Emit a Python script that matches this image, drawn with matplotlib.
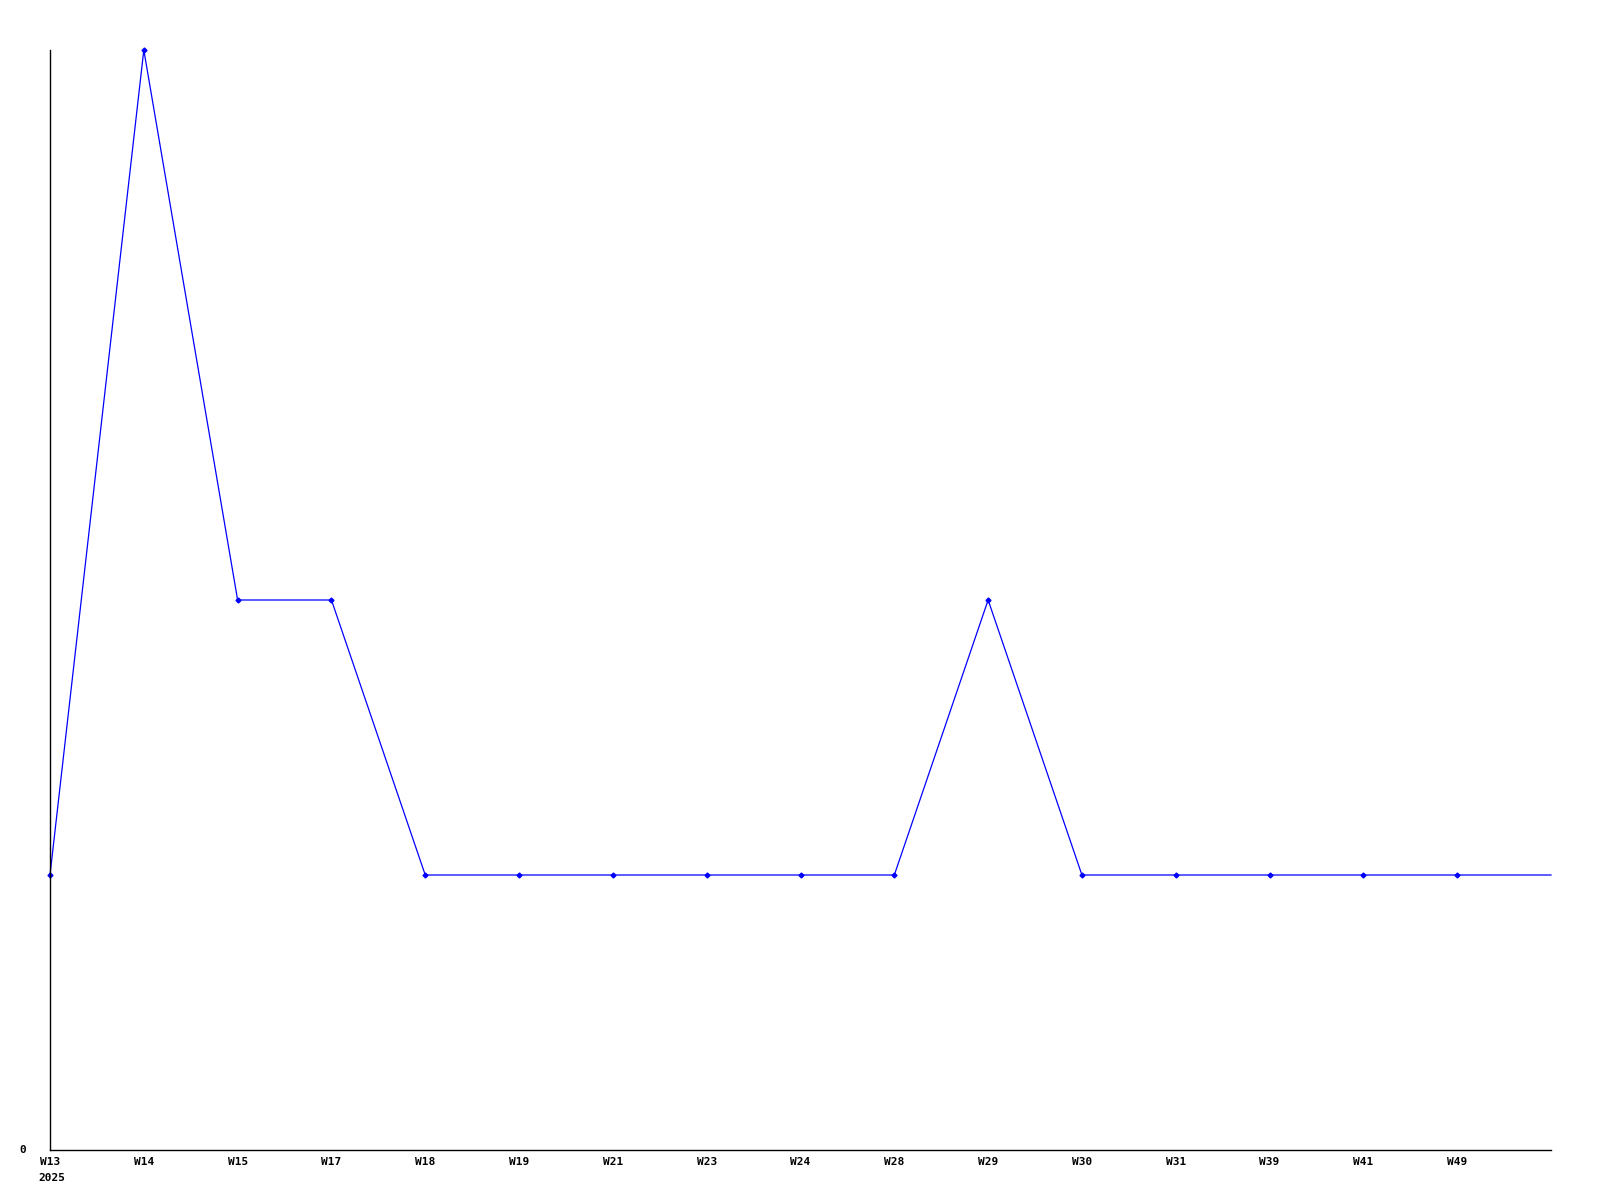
import matplotlib
matplotlib.use("Agg")
import matplotlib.pyplot as plt

weeks = ["W13", "W14", "W15", "W17", "W18", "W19", "W21", "W23",
         "W24", "W28", "W29", "W30", "W31", "W39", "W41", "W49"]
values = [1, 4, 2, 2, 1, 1, 1, 1, 1, 1, 2, 1, 1, 1, 1, 1]
trailing_value = 1
year_label = "2025"

fig = plt.figure(figsize=(16, 12), dpi=100)
ax = fig.add_axes([50/1600, 1 - 1150/1200, 1501/1600, 1100/1200])

xs = list(range(len(weeks)))
ax.plot(xs + [len(weeks)], values + [trailing_value], color="#0000ff", lw=0.9,
        marker="D", ms=2.5, markevery=list(range(len(weeks))), clip_on=False)

ax.set_xlim(0, len(weeks))
ax.set_ylim(0, max(values))
for s in ["top", "right"]:
    ax.spines[s].set_visible(False)
for s in ["left", "bottom"]:
    ax.spines[s].set_linewidth(1.0)
ax.set_xticks(xs)
ax.set_xticklabels(weeks)
ax.set_yticks([0])
ax.set_yticklabels(["0"])
ax.tick_params(length=0, labelsize=8, pad=5)
for lab in ax.get_xticklabels() + ax.get_yticklabels():
    lab.set_fontfamily("DejaVu Sans Mono")
    lab.set_fontweight("bold")
for lab in ax.get_yticklabels():
    lab.set_verticalalignment("center")
ax.tick_params(axis="y", pad=17)
ax.text(-0.125, -0.0205, year_label, transform=ax.get_xaxis_transform(),
        ha="left", va="top", fontsize=8, fontfamily="DejaVu Sans Mono",
        fontweight="bold")

fig.savefig("out.png", dpi=100)
